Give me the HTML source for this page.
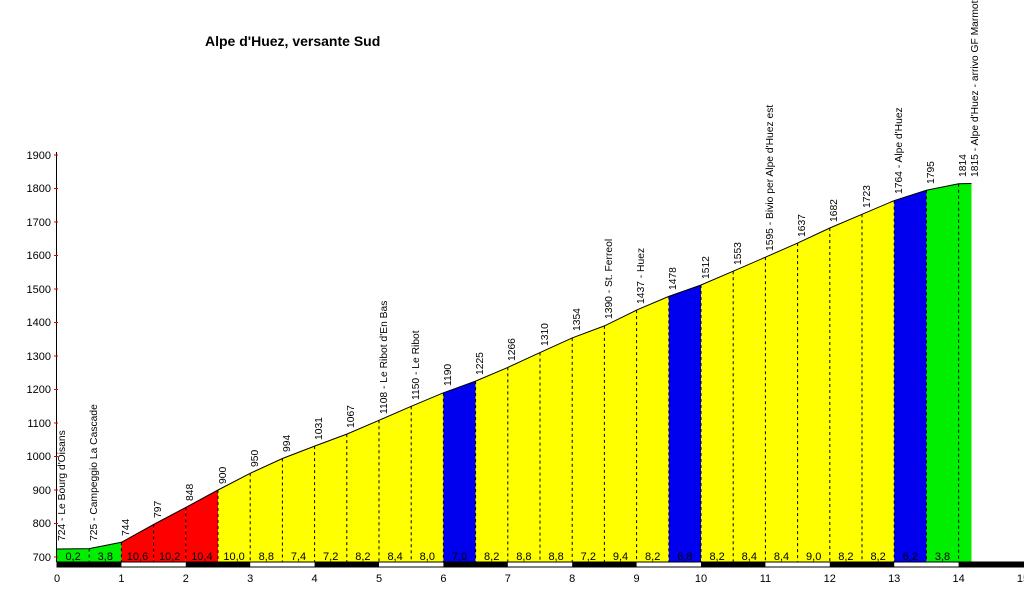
<!DOCTYPE html>
<html><head><meta charset="utf-8"><style>
body{margin:0;background:#fff;width:1024px;height:607px;overflow:hidden}
svg{font-family:"Liberation Sans",Arial,sans-serif;display:block}
</style></head><body>
<svg width="1024" height="607" xmlns="http://www.w3.org/2000/svg">
<text x="205" y="46" font-size="14" font-weight="bold">Alpe d'Huez, versante Sud</text>
<g stroke="none">
<polygon fill="#00ee00" points="57,562 57,549 89.2,548.6 89.2,562"/>
<polygon fill="#00ee00" points="89.2,562 89.2,548.6 121.4,542.3 121.4,562"/>
<polygon fill="#ff0000" points="121.4,562 121.4,542.3 153.6,524.5 153.6,562"/>
<polygon fill="#ff0000" points="153.6,562 153.6,524.5 185.8,507.4 185.8,562"/>
<polygon fill="#ff0000" points="185.8,562 185.8,507.4 218,490 218,562"/>
<polygon fill="#ffff00" points="218,562 218,490 250.2,473.3 282.4,458.5 314.6,446.1 346.8,434.1 379,420.3 411.2,406.3 443.4,392.8 443.4,562"/>
<polygon fill="#0000ee" points="443.4,562 443.4,392.8 475.6,381.1 475.6,562"/>
<polygon fill="#ffff00" points="475.6,562 475.6,381.1 507.8,367.4 540,352.6 572.2,337.9 604.4,325.9 636.6,310.1 668.8,296.4 668.8,562"/>
<polygon fill="#0000ee" points="668.8,562 668.8,296.4 701,285 701,562"/>
<polygon fill="#ffff00" points="701,562 701,285 733.2,271.2 765.4,257.2 797.6,243.1 829.8,228 862,214.3 894.2,200.6 894.2,562"/>
<polygon fill="#0000ee" points="894.2,562 894.2,200.6 926.4,190.2 926.4,562"/>
<polygon fill="#00ee00" points="926.4,562 926.4,190.2 958.6,183.8 971.5,183.5 971.5,562"/>
</g>
<polyline fill="none" stroke="#000" stroke-width="1" points="57,549 89.2,548.6 121.4,542.3 153.6,524.5 185.8,507.4 218,490 250.2,473.3 282.4,458.5 314.6,446.1 346.8,434.1 379,420.3 411.2,406.3 443.4,392.8 475.6,381.1 507.8,367.4 540,352.6 572.2,337.9 604.4,325.9 636.6,310.1 668.8,296.4 701,285 733.2,271.2 765.4,257.2 797.6,243.1 829.8,228 862,214.3 894.2,200.6 926.4,190.2 958.6,183.8 971.5,183.5"/>
<g stroke="#000" stroke-dasharray="3,3" stroke-width="1">
<line x1="89.2" y1="548.6" x2="89.2" y2="562"/><line x1="121.4" y1="542.3" x2="121.4" y2="562"/>
<line x1="153.6" y1="524.5" x2="153.6" y2="562"/><line x1="185.8" y1="507.4" x2="185.8" y2="562"/>
<line x1="218" y1="490" x2="218" y2="562"/><line x1="250.2" y1="473.3" x2="250.2" y2="562"/>
<line x1="282.4" y1="458.5" x2="282.4" y2="562"/><line x1="314.6" y1="446.1" x2="314.6" y2="562"/>
<line x1="346.8" y1="434.1" x2="346.8" y2="562"/><line x1="379" y1="420.3" x2="379" y2="562"/>
<line x1="411.2" y1="406.3" x2="411.2" y2="562"/><line x1="443.4" y1="392.8" x2="443.4" y2="562"/>
<line x1="475.6" y1="381.1" x2="475.6" y2="562"/><line x1="507.8" y1="367.4" x2="507.8" y2="562"/>
<line x1="540" y1="352.6" x2="540" y2="562"/><line x1="572.2" y1="337.9" x2="572.2" y2="562"/>
<line x1="604.4" y1="325.9" x2="604.4" y2="562"/><line x1="636.6" y1="310.1" x2="636.6" y2="562"/>
<line x1="668.8" y1="296.4" x2="668.8" y2="562"/><line x1="701" y1="285" x2="701" y2="562"/>
<line x1="733.2" y1="271.2" x2="733.2" y2="562"/><line x1="765.4" y1="257.2" x2="765.4" y2="562"/>
<line x1="797.6" y1="243.1" x2="797.6" y2="562"/><line x1="829.8" y1="228" x2="829.8" y2="562"/>
<line x1="862" y1="214.3" x2="862" y2="562"/><line x1="894.2" y1="200.6" x2="894.2" y2="562"/>
<line x1="926.4" y1="190.2" x2="926.4" y2="562"/><line x1="958.6" y1="183.8" x2="958.6" y2="562"/>
</g>
<g font-size="11" text-anchor="middle">
<text x="73.1" y="560">0,2</text><text x="105.3" y="560">3,8</text><text x="137.5" y="560">10,6</text>
<text x="169.7" y="560">10,2</text><text x="201.9" y="560">10,4</text><text x="234.1" y="560">10,0</text>
<text x="266.3" y="560">8,8</text><text x="298.5" y="560">7,4</text><text x="330.7" y="560">7,2</text>
<text x="362.9" y="560">8,2</text><text x="395.1" y="560">8,4</text><text x="427.3" y="560">8,0</text>
<text x="459.5" y="560">7,0</text><text x="491.7" y="560">8,2</text><text x="523.9" y="560">8,8</text>
<text x="556.1" y="560">8,8</text><text x="588.3" y="560">7,2</text><text x="620.5" y="560">9,4</text>
<text x="652.7" y="560">8,2</text><text x="684.9" y="560">6,8</text><text x="717.1" y="560">8,2</text>
<text x="749.3" y="560">8,4</text><text x="781.5" y="560">8,4</text><text x="813.7" y="560">9,0</text>
<text x="845.9" y="560">8,2</text><text x="878.1" y="560">8,2</text><text x="910.3" y="560">6,2</text>
<text x="942.5" y="560">3,8</text>
</g>
<g font-size="10.3">
<text transform="translate(65,541) rotate(-90)">724 - Le Bourg d'Oisans</text>
<text transform="translate(97,541) rotate(-90)">725 - Campeggio La Cascade</text>
<text transform="translate(129,536) rotate(-90)">744</text>
<text transform="translate(161,518) rotate(-90)">797</text>
<text transform="translate(193,501) rotate(-90)">848</text>
<text transform="translate(226,484) rotate(-90)">900</text>
<text transform="translate(258,467) rotate(-90)">950</text>
<text transform="translate(290,452) rotate(-90)">994</text>
<text transform="translate(322,440) rotate(-90)">1031</text>
<text transform="translate(354,428) rotate(-90)">1067</text>
<text transform="translate(387,414) rotate(-90)">1108 - Le Ribot d'En Bas</text>
<text transform="translate(419,400) rotate(-90)">1150 - Le Ribot</text>
<text transform="translate(451,386) rotate(-90)">1190</text>
<text transform="translate(483,375) rotate(-90)">1225</text>
<text transform="translate(515,361) rotate(-90)">1266</text>
<text transform="translate(548,346) rotate(-90)">1310</text>
<text transform="translate(580,331) rotate(-90)">1354</text>
<text transform="translate(612,319) rotate(-90)">1390 - St. Ferreol</text>
<text transform="translate(644,304) rotate(-90)">1437 - Huez</text>
<text transform="translate(676,290) rotate(-90)">1478</text>
<text transform="translate(709,279) rotate(-90)">1512</text>
<text transform="translate(741,265) rotate(-90)">1553</text>
<text transform="translate(773,251) rotate(-90)">1595 - Bivio per Alpe d'Huez est</text>
<text transform="translate(805,237) rotate(-90)">1637</text>
<text transform="translate(837,222) rotate(-90)">1682</text>
<text transform="translate(870,208) rotate(-90)">1723</text>
<text transform="translate(902,194) rotate(-90)">1764 - Alpe d'Huez</text>
<text transform="translate(934,184) rotate(-90)">1795</text>
<text transform="translate(966,177) rotate(-90)">1814</text>
<text transform="translate(978,177) rotate(-90)">1815 - Alpe d'Huez - arrivo GF Marmotte</text>
</g>
<line x1="56.5" y1="152" x2="56.5" y2="562" stroke="#000"/>
<g stroke="#e00000">
<line x1="54" y1="557" x2="58" y2="557"/><line x1="54" y1="523.5" x2="58" y2="523.5"/><line x1="54" y1="490" x2="58" y2="490"/>
<line x1="54" y1="456.5" x2="58" y2="456.5"/><line x1="54" y1="423" x2="58" y2="423"/><line x1="54" y1="389.5" x2="58" y2="389.5"/>
<line x1="54" y1="356" x2="58" y2="356"/><line x1="54" y1="322.5" x2="58" y2="322.5"/><line x1="54" y1="289" x2="58" y2="289"/>
<line x1="54" y1="255.5" x2="58" y2="255.5"/><line x1="54" y1="222" x2="58" y2="222"/><line x1="54" y1="188.5" x2="58" y2="188.5"/>
<line x1="54" y1="155" x2="58" y2="155"/>
</g>
<g font-size="11" text-anchor="end">
<text x="51" y="561">700</text><text x="51" y="527">800</text><text x="51" y="494">900</text>
<text x="51" y="460">1000</text><text x="51" y="427">1100</text><text x="51" y="393">1200</text>
<text x="51" y="360">1300</text><text x="51" y="326">1400</text><text x="51" y="293">1500</text>
<text x="51" y="259">1600</text><text x="51" y="226">1700</text><text x="51" y="192">1800</text>
<text x="51" y="159">1900</text>
</g>
<rect x="57" y="562" width="967" height="5" fill="#fff" stroke="#000" stroke-width="1"/>
<g fill="#000">
<rect x="57" y="562" width="64.4" height="5"/><rect x="185.8" y="562" width="64.4" height="5"/>
<rect x="314.6" y="562" width="64.4" height="5"/><rect x="443.4" y="562" width="64.4" height="5"/>
<rect x="572.2" y="562" width="64.4" height="5"/><rect x="701" y="562" width="64.4" height="5"/>
<rect x="829.8" y="562" width="64.4" height="5"/><rect x="958.6" y="562" width="65.4" height="5"/>
</g>
<g font-size="11" text-anchor="middle">
<text x="57" y="582">0</text><text x="121.4" y="582">1</text><text x="185.8" y="582">2</text>
<text x="250.2" y="582">3</text><text x="314.6" y="582">4</text><text x="379" y="582">5</text>
<text x="443.4" y="582">6</text><text x="507.8" y="582">7</text><text x="572.2" y="582">8</text>
<text x="636.6" y="582">9</text><text x="701" y="582">10</text><text x="765.4" y="582">11</text>
<text x="829.8" y="582">12</text><text x="894.2" y="582">13</text><text x="958.6" y="582">14</text>
<text x="1023" y="582">15</text>
</g>
</svg>
</body></html>
